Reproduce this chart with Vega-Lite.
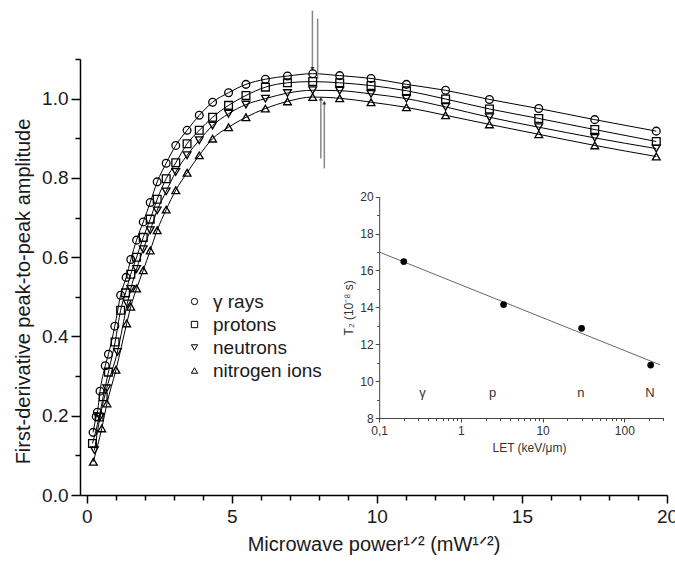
{
  "$schema": "https://vega.github.io/schema/vega-lite/v6.json",
  "width": 587,
  "height": 436,
  "autosize": {"type": "none"},
  "padding": {"left": 80, "top": 59, "right": 8, "bottom": 68},
  "background": "white",
  "config": {
    "view": {"stroke": null},
    "font": "Liberation Sans",
    "axis": {"grid": false, "labelOverlap": false, "labelFlush": false}
  },
  "datasets": {
    "esr": [
      {"s": "γ rays", "x": 0.22, "y": 0.158},
      {"s": "γ rays", "x": 0.33, "y": 0.198},
      {"s": "γ rays", "x": 0.37, "y": 0.209},
      {"s": "γ rays", "x": 0.46, "y": 0.262},
      {"s": "γ rays", "x": 0.64, "y": 0.326},
      {"s": "γ rays", "x": 0.75, "y": 0.355},
      {"s": "γ rays", "x": 0.97, "y": 0.426},
      {"s": "γ rays", "x": 1.17, "y": 0.504},
      {"s": "γ rays", "x": 1.36, "y": 0.549},
      {"s": "γ rays", "x": 1.52, "y": 0.594},
      {"s": "γ rays", "x": 1.72, "y": 0.643},
      {"s": "γ rays", "x": 1.95, "y": 0.689},
      {"s": "γ rays", "x": 2.19, "y": 0.738},
      {"s": "γ rays", "x": 2.43, "y": 0.79},
      {"s": "γ rays", "x": 2.74, "y": 0.837},
      {"s": "γ rays", "x": 3.07, "y": 0.882},
      {"s": "γ rays", "x": 3.46, "y": 0.92},
      {"s": "γ rays", "x": 3.88, "y": 0.958},
      {"s": "γ rays", "x": 4.34, "y": 0.991},
      {"s": "γ rays", "x": 4.89, "y": 1.015},
      {"s": "γ rays", "x": 5.49, "y": 1.036},
      {"s": "γ rays", "x": 6.16, "y": 1.049},
      {"s": "γ rays", "x": 6.92, "y": 1.057},
      {"s": "γ rays", "x": 7.79, "y": 1.063},
      {"s": "γ rays", "x": 8.72, "y": 1.058},
      {"s": "γ rays", "x": 9.8, "y": 1.051},
      {"s": "γ rays", "x": 11.02, "y": 1.036},
      {"s": "γ rays", "x": 12.37, "y": 1.021},
      {"s": "γ rays", "x": 13.88, "y": 0.998},
      {"s": "γ rays", "x": 15.58, "y": 0.975},
      {"s": "γ rays", "x": 17.51, "y": 0.947},
      {"s": "γ rays", "x": 19.63, "y": 0.918},
      {"s": "protons", "x": 0.2, "y": 0.13},
      {"s": "protons", "x": 0.43, "y": 0.197},
      {"s": "protons", "x": 0.57, "y": 0.248},
      {"s": "protons", "x": 0.75, "y": 0.31},
      {"s": "protons", "x": 0.98, "y": 0.386},
      {"s": "protons", "x": 1.17, "y": 0.466},
      {"s": "protons", "x": 1.34, "y": 0.51},
      {"s": "protons", "x": 1.52, "y": 0.557},
      {"s": "protons", "x": 1.72, "y": 0.6},
      {"s": "protons", "x": 1.95, "y": 0.65},
      {"s": "protons", "x": 2.19, "y": 0.696},
      {"s": "protons", "x": 2.43, "y": 0.746},
      {"s": "protons", "x": 2.74, "y": 0.798},
      {"s": "protons", "x": 3.07, "y": 0.838},
      {"s": "protons", "x": 3.46, "y": 0.886},
      {"s": "protons", "x": 3.88, "y": 0.92},
      {"s": "protons", "x": 4.34, "y": 0.953},
      {"s": "protons", "x": 4.89, "y": 0.983},
      {"s": "protons", "x": 5.49, "y": 1.008},
      {"s": "protons", "x": 6.16, "y": 1.029},
      {"s": "protons", "x": 6.92, "y": 1.04},
      {"s": "protons", "x": 7.79, "y": 1.043},
      {"s": "protons", "x": 8.72, "y": 1.04},
      {"s": "protons", "x": 9.8, "y": 1.033},
      {"s": "protons", "x": 11.02, "y": 1.02},
      {"s": "protons", "x": 12.37, "y": 0.999},
      {"s": "protons", "x": 13.88, "y": 0.974},
      {"s": "protons", "x": 15.58, "y": 0.95},
      {"s": "protons", "x": 17.51, "y": 0.922},
      {"s": "protons", "x": 19.63, "y": 0.892},
      {"s": "neutrons", "x": 0.27, "y": 0.113},
      {"s": "neutrons", "x": 0.46, "y": 0.197},
      {"s": "neutrons", "x": 0.69, "y": 0.269},
      {"s": "neutrons", "x": 1.06, "y": 0.361},
      {"s": "neutrons", "x": 1.4, "y": 0.483},
      {"s": "neutrons", "x": 1.52, "y": 0.52},
      {"s": "neutrons", "x": 1.72, "y": 0.57},
      {"s": "neutrons", "x": 1.95, "y": 0.62},
      {"s": "neutrons", "x": 2.19, "y": 0.668},
      {"s": "neutrons", "x": 2.43, "y": 0.718},
      {"s": "neutrons", "x": 2.74, "y": 0.766},
      {"s": "neutrons", "x": 3.07, "y": 0.815},
      {"s": "neutrons", "x": 3.46, "y": 0.857},
      {"s": "neutrons", "x": 3.88, "y": 0.895},
      {"s": "neutrons", "x": 4.34, "y": 0.932},
      {"s": "neutrons", "x": 4.89, "y": 0.962},
      {"s": "neutrons", "x": 5.49, "y": 0.985},
      {"s": "neutrons", "x": 6.16, "y": 1.0},
      {"s": "neutrons", "x": 6.92, "y": 1.014},
      {"s": "neutrons", "x": 7.79, "y": 1.021},
      {"s": "neutrons", "x": 8.72, "y": 1.02},
      {"s": "neutrons", "x": 9.8, "y": 1.012},
      {"s": "neutrons", "x": 11.02, "y": 1.0},
      {"s": "neutrons", "x": 12.37, "y": 0.979},
      {"s": "neutrons", "x": 13.88, "y": 0.953},
      {"s": "neutrons", "x": 15.58, "y": 0.928},
      {"s": "neutrons", "x": 17.51, "y": 0.901},
      {"s": "neutrons", "x": 19.63, "y": 0.874},
      {"s": "nitrogen ions", "x": 0.23, "y": 0.084},
      {"s": "nitrogen ions", "x": 0.52, "y": 0.168},
      {"s": "nitrogen ions", "x": 0.7, "y": 0.231},
      {"s": "nitrogen ions", "x": 1.01, "y": 0.316},
      {"s": "nitrogen ions", "x": 1.38, "y": 0.433},
      {"s": "nitrogen ions", "x": 1.52, "y": 0.475},
      {"s": "nitrogen ions", "x": 1.72, "y": 0.521},
      {"s": "nitrogen ions", "x": 1.95, "y": 0.567},
      {"s": "nitrogen ions", "x": 2.19, "y": 0.617},
      {"s": "nitrogen ions", "x": 2.43, "y": 0.668},
      {"s": "nitrogen ions", "x": 2.74, "y": 0.72},
      {"s": "nitrogen ions", "x": 3.07, "y": 0.769},
      {"s": "nitrogen ions", "x": 3.46, "y": 0.813},
      {"s": "nitrogen ions", "x": 3.88, "y": 0.857},
      {"s": "nitrogen ions", "x": 4.34, "y": 0.899},
      {"s": "nitrogen ions", "x": 4.89, "y": 0.928},
      {"s": "nitrogen ions", "x": 5.49, "y": 0.953},
      {"s": "nitrogen ions", "x": 6.16, "y": 0.975},
      {"s": "nitrogen ions", "x": 6.92, "y": 0.993},
      {"s": "nitrogen ions", "x": 7.79, "y": 1.004},
      {"s": "nitrogen ions", "x": 8.72, "y": 1.001},
      {"s": "nitrogen ions", "x": 9.8, "y": 0.991},
      {"s": "nitrogen ions", "x": 11.02, "y": 0.978},
      {"s": "nitrogen ions", "x": 12.37, "y": 0.958},
      {"s": "nitrogen ions", "x": 13.88, "y": 0.935},
      {"s": "nitrogen ions", "x": 15.58, "y": 0.91},
      {"s": "nitrogen ions", "x": 17.51, "y": 0.882},
      {"s": "nitrogen ions", "x": 19.63, "y": 0.854}
    ],
    "arrows": [
      {"x": 7.78, "y": 1.072, "y2": 1.222},
      {"x": 7.96, "y": 1.05, "y2": 1.202},
      {"x": 8.07, "y": 0.849, "y2": 1.0},
      {"x": 8.19, "y": 0.824, "y2": 0.99}
    ],
    "headsDown": [
      {"x": 7.78, "y": 1.075}
    ],
    "headsUp": [
      {"x": 8.07, "y": 1.0},
      {"x": 8.19, "y": 0.99}
    ],
    "t2": [
      {"let": 0.2, "t2": 16.48},
      {"let": 3.33, "t2": 14.15},
      {"let": 30, "t2": 12.86},
      {"let": 210, "t2": 10.87}
    ],
    "fit": [
      {"let": 0.1, "t2": 17.0},
      {"let": 275, "t2": 10.88}
    ],
    "tlabels": [
      {"let": 0.34, "t2": 9.37, "lab": "γ"},
      {"let": 2.44, "t2": 9.37, "lab": "p"},
      {"let": 29.4, "t2": 9.37, "lab": "n"},
      {"let": 206, "t2": 9.37, "lab": "N"}
    ]
  },
  "layer": [
    {
      "encoding": {
        "x": {
          "field": "x", "type": "quantitative",
          "scale": {"domain": [-0.23, 20], "nice": false, "zero": false},
          "axis": {
            "title": "Microwave power¹ᐟ² (mW¹ᐟ²)",
            "titleFontSize": 20, "titleFontWeight": "normal", "titleColor": "#1a1a1a",
            "titlePadding": 8,
            "values": [0,1,2,3,4,5,6,7,8,9,10,11,12,13,14,15,16,17,18,19,20],
            "labelExpr": "datum.value % 5 == 0 ? format(datum.value, 'd') : ''",
            "labelFontSize": 19, "labelColor": "#1a1a1a", "labelPadding": 4,
            "domainColor": "#000", "domainWidth": 1.5,
            "tickColor": "#000", "tickWidth": 1.5,
            "tickSize": {"condition": {"test": "datum.value % 5 == 0", "value": 8}, "value": 5}
          }
        },
        "y": {
          "field": "y", "type": "quantitative",
          "scale": {"domain": [0, 1.1], "nice": false, "zero": false},
          "axis": {
            "title": "First-derivative peak-to-peak amplitude",
            "titleFontSize": 20, "titleFontWeight": "normal", "titleColor": "#1a1a1a",
            "titlePadding": 8, "titleY": 232,
            "values": [0,0.1,0.2,0.3,0.4,0.5,0.6,0.7,0.8,0.9,1.0,1.1],
            "labelExpr": "round(datum.value*10) % 2 == 0 ? format(datum.value, '.1f') : ''",
            "labelFontSize": 19, "labelColor": "#1a1a1a", "labelPadding": 3,
            "domainColor": "#000", "domainWidth": 1.5,
            "tickColor": "#000", "tickWidth": 1.5,
            "tickSize": {"condition": {"test": "round(datum.value*10) % 2 == 0", "value": 9}, "value": 5}
          }
        }
      },
      "layer": [
        {
          "data": {"name": "esr"},
          "mark": {"type": "line", "color": "#000", "strokeWidth": 1, "interpolate": "monotone"},
          "encoding": {"detail": {"field": "s"}, "order": {"field": "x", "type": "quantitative"}}
        },
        {
          "data": {"name": "arrows"},
          "mark": {"type": "rule", "color": "#888", "strokeWidth": 1.5},
          "encoding": {"y2": {"field": "y2"}}
        },
        {
          "data": {"name": "headsDown"},
          "mark": {"type": "point", "shape": "triangle-down", "filled": true, "color": "#000", "size": 18},
          "encoding": {}
        },
        {
          "data": {"name": "headsUp"},
          "mark": {"type": "point", "shape": "triangle-up", "filled": true, "color": "#000", "size": 18},
          "encoding": {}
        },
        {
          "data": {"name": "esr"},
          "mark": {"type": "point", "filled": false, "color": "#000", "strokeWidth": 1.3, "opacity": 1, "size": 60},
          "encoding": {
            "shape": {
              "field": "s", "type": "nominal",
              "scale": {"domain": ["γ rays", "protons", "neutrons", "nitrogen ions"], "range": ["circle", "square", "triangle-down", "triangle-up"]},
              "legend": {
                "title": null, "orient": "none", "legendX": 105, "legendY": 233,
                "labelFontSize": 19, "labelColor": "#1a1a1a", "labelOffset": 9,
                "symbolSize": 40, "symbolStrokeWidth": 1,
                "rowPadding": 3
              }
            }
          }
        }
      ]
    },
    {
      "encoding": {
        "x": {
          "field": "let", "type": "quantitative",
          "scale": {"type": "log", "domain": [0.1, 300], "range": [299.2, 583.3], "nice": false},
          "axis": {
            "orient": "bottom", "offset": -77,
            "title": "LET (keV/μm)", "titleFontSize": 12, "titleFontWeight": "normal", "titleColor": "#333",
            "titlePadding": 6, "titleX": 449,
            "values": [0.1,0.2,0.3,0.4,0.5,0.6,0.7,0.8,0.9,1,2,3,4,5,6,7,8,9,10,20,30,40,50,60,70,80,90,100,200,300],
            "labelExpr": "datum.value == 0.1 ? '0,1' : (datum.value == 1 || datum.value == 10 || datum.value == 100) ? format(datum.value, 'd') : ''",
            "labelFontSize": 12, "labelColor": "#333", "labelPadding": 3,
            "domainColor": "#444", "domainWidth": 1,
            "tickColor": "#444", "tickWidth": 1,
            "tickSize": {"condition": {"test": "datum.value == 0.1 || datum.value == 1 || datum.value == 10 || datum.value == 100", "value": 4}, "value": 2.5}
          }
        },
        "y": {
          "field": "t2", "type": "quantitative",
          "scale": {"domain": [8, 20], "range": [359, 137.7], "nice": false, "zero": false},
          "axis": {
            "orient": "left", "offset": -299.2,
            "title": "T₂ (10⁻⁸ s)", "titleFontSize": 12, "titleFontWeight": "normal", "titleColor": "#333",
            "titlePadding": 4,
            "values": [8,9,10,11,12,13,14,15,16,17,18,19,20],
            "labelExpr": "datum.value % 2 == 0 ? format(datum.value, 'd') : ''",
            "labelFontSize": 12, "labelColor": "#333", "labelPadding": 2,
            "domainColor": "#444", "domainWidth": 1,
            "tickColor": "#444", "tickWidth": 1,
            "tickSize": {"condition": {"test": "datum.value % 2 == 0", "value": 4}, "value": 2.5}
          }
        }
      },
      "layer": [
        {
          "data": {"name": "fit"},
          "mark": {"type": "line", "color": "#666", "strokeWidth": 1},
          "encoding": {}
        },
        {
          "data": {"name": "t2"},
          "mark": {"type": "point", "filled": true, "color": "#000", "size": 45, "opacity": 1},
          "encoding": {}
        },
        {
          "data": {"name": "tlabels"},
          "mark": {"type": "text", "fontSize": 13, "color": "#333"},
          "encoding": {"text": {"field": "lab"}}
        }
      ]
    }
  ],
  "resolve": {
    "scale": {"x": "independent", "y": "independent"},
    "axis": {"x": "independent", "y": "independent"}
  }
}
